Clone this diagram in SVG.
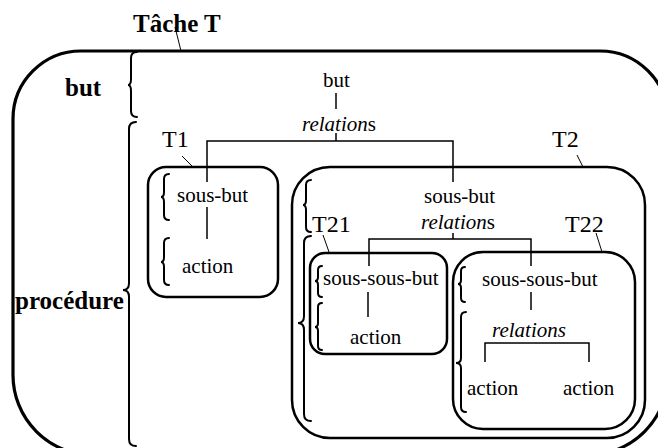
<svg xmlns="http://www.w3.org/2000/svg" width="658" height="448" viewBox="0 0 658 448">
  <style>
    .box { fill: none; stroke: #000; stroke-width: 2.5; }
    .outer { fill: none; stroke: #000; stroke-width: 3.2; }
    .brace { fill: none; stroke: #000; stroke-width: 2; stroke-linecap: round; }
    .link { fill: none; stroke: #000; stroke-width: 1.5; }
    .ptr { fill: none; stroke: #000; stroke-width: 1; }
    text { font-family: "Liberation Serif", "Times New Roman", serif; fill: #000; }
    .t { font-size: 21px; }
    .it { font-style: italic; }
    .lbl { font-size: 24px; }
    .head { font-size: 25px; font-weight: bold; }
  </style>
  <rect width="658" height="448" fill="#fff"/>

  <!-- task T: outer frame with goal / procedure split -->
  <g id="task-T">
    <path class="outer" d="M81 51 H600 A68 68 0 0 1 668 119 V375 A80 80 0 0 1 588 455 H93 A80 80 0 0 1 13 375 V119 A68 68 0 0 1 81 51 Z"/>
    <text class="head" x="133" y="32">Tâche T</text>
    <line class="ptr" x1="175" y1="27" x2="181" y2="51"/>
    <text class="head" x="65" y="96">but</text>
    <text class="head" x="15" y="309">procédure</text>
    <path class="brace" d="M137 52 Q131 52 131 58 V79 Q131 85 128 85 Q131 85 131 91 V111 Q131 117 137 117"/>
    <path class="brace" d="M136 122 Q129 122 129 129 V283 Q129 290 123 290 Q129 290 129 297 V439 Q129 446 136 446"/>
    <text class="t" x="323" y="87">but</text>
    <text class="t" x="302" y="131"><tspan class="it">relation</tspan>s</text>
  </g>

  <!-- subtask T1 -->
  <g id="T1">
    <rect class="box" x="148" y="167" width="130" height="130" rx="18"/>
    <text class="lbl" x="162" y="147">T1</text>
    <line class="ptr" x1="182" y1="156" x2="193" y2="167"/>
    <path class="brace" d="M169 174 Q164 174 164 179 V192 Q164 197 161 197 Q164 197 164 202 V215 Q164 220 169 220"/>
    <path class="brace" d="M169 238 Q164 238 164 243 V257 Q164 262 161 262 Q164 262 164 267 V280 Q164 285 169 285"/>
    <text class="t" x="177" y="202">sous-but</text>
    <text class="t" x="182" y="273">action</text>
  </g>

  <!-- subtask T2 -->
  <g id="T2">
    <rect class="box" x="292" y="167" width="353" height="271" rx="38"/>
    <text class="lbl" x="552" y="147">T2</text>
    <line class="ptr" x1="577" y1="155" x2="583" y2="167"/>
    <path class="brace" d="M311 180 Q306 180 306 185 V200 Q306 205 303 205 Q306 205 306 210 V227 Q306 232 311 232"/>
    <path class="brace" d="M311 236 Q304 236 304 243 V316 Q304 323 298 323 Q304 323 304 330 V414 Q304 421 311 421"/>
    <text class="t" x="424" y="203">sous-but</text>
    <text class="t" x="421" y="229"><tspan class="it">relation</tspan>s</text>
  </g>

  <!-- subtask T21 -->
  <g id="T21">
    <rect class="box" x="310" y="253" width="137" height="101" rx="15"/>
    <text class="lbl" x="312" y="232">T21</text>
    <line class="ptr" x1="323" y1="235" x2="329" y2="252"/>
    <path class="brace" d="M322 266 Q318 266 318 270 V277 Q318 281 315 281 Q318 281 318 285 V293 Q318 297 322 297"/>
    <path class="brace" d="M322 303 Q318 303 318 307 V323 Q318 327 315 327 Q318 327 318 331 V346 Q318 350 322 350"/>
    <text class="t" x="323" y="285">sous-sous-but</text>
    <text class="t" x="350" y="344">action</text>
  </g>

  <!-- subtask T22 -->
  <g id="T22">
    <rect class="box" x="453" y="252" width="182" height="177" rx="30"/>
    <text class="lbl" x="565" y="232">T22</text>
    <line class="ptr" x1="596" y1="233" x2="602" y2="252"/>
    <path class="brace" d="M465 267 Q461 267 461 271 V280 Q461 284 458 284 Q461 284 461 288 V298 Q461 302 465 302"/>
    <path class="brace" d="M466 312 Q461 312 461 317 V358 Q461 363 456 363 Q461 363 461 368 V407 Q461 412 466 412"/>
    <text class="t" x="482" y="286">sous-sous-but</text>
    <text class="t it" x="492" y="337">relations</text>
    <text class="t" x="467" y="395">action</text>
    <text class="t" x="563" y="395">action</text>
  </g>

  <!-- decomposition links -->
  <g id="connectors">
    <path class="link" d="M336 93 V109"/>
    <path class="link" d="M336 133 V141 M207 182 V141 H453 V182"/>
    <path class="link" d="M207 207 V239"/>
    <path class="link" d="M453 233 V239 M369 266 V239 H531 V266"/>
    <path class="link" d="M368 292 V317"/>
    <path class="link" d="M531 292 V310"/>
    <path class="link" d="M485 362 V343 H589 V362"/>
  </g>
</svg>
